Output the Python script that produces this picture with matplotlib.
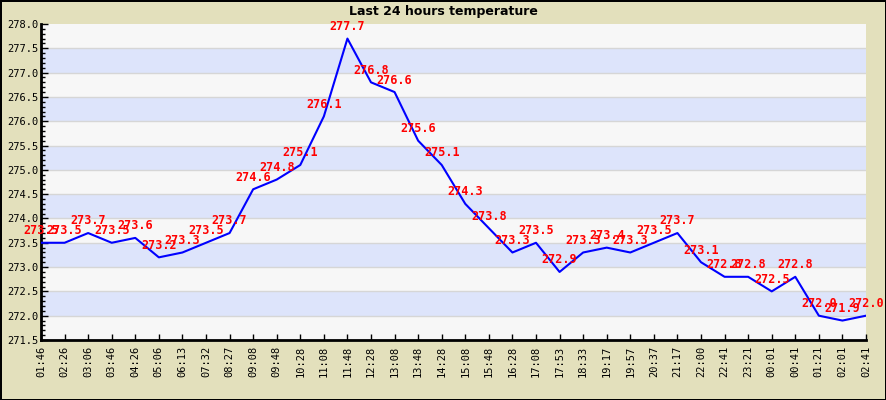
import numpy as np
import matplotlib
matplotlib.use("Agg")
import matplotlib.pyplot as plt
from matplotlib.ticker import MultipleLocator

# data
times = ["01:46", "02:26", "03:06", "03:46", "04:26", "05:06", "06:13", "07:32",
         "08:27", "09:08", "09:48", "10:28", "11:08", "11:48", "12:28", "13:08",
         "13:48", "14:28", "15:08", "15:48", "16:28", "17:08", "17:53", "18:33",
         "19:17", "19:57", "20:37", "21:17", "22:00", "22:41", "23:21", "00:01",
         "00:41", "01:21", "02:01", "02:41"]
temps = [273.5, 273.5, 273.7, 273.5, 273.6, 273.2, 273.3, 273.5, 273.7, 274.6,
         274.8, 275.1, 276.1, 277.7, 276.8, 276.6, 275.6, 275.1, 274.3, 273.8,
         273.3, 273.5, 272.9, 273.3, 273.4, 273.3, 273.5, 273.7, 273.1, 272.8,
         272.8, 272.5, 272.8, 272.0, 271.9, 272.0]
y_min, y_max = 271.5, 278.0

bg = '#E3E0BC'
mono = 'DejaVu Sans Mono'

fig = plt.figure(figsize=(8.86, 4.0), dpi=100, facecolor=bg,
                 edgecolor='black', linewidth=2)
ax = fig.add_axes([41 / 886, 60 / 400, 825 / 886, 316 / 400])
ax.set_facecolor('#F7F7F7')

# alternating bands
levels = np.arange(y_min, y_max, 0.5)
for i, lv in enumerate(levels):
    if i % 2 == 1:
        ax.axhspan(lv, lv + 0.5, color='#DDE4FB', zorder=0, lw=0)
    ax.axhline(lv, color='#D6D6D6', lw=1, zorder=1)

x = np.arange(len(times))
ax.plot(x, temps, color='#0000FF', lw=1.5, zorder=3)

for xi, t in zip(x, temps):
    ax.annotate(f"{t:.1f}", (xi, t), xytext=(0, 4), textcoords='offset points',
                ha='center', va='bottom', color='#FF0000', fontsize=8.5,
                fontweight='bold', family=mono, zorder=4)

ax.set_xlim(0, len(times) - 1)
ax.set_ylim(y_min, y_max)
ax.set_xticks(x)
ax.set_xticklabels(times, rotation=90, family=mono, fontsize=7.5)
ax.yaxis.set_major_locator(MultipleLocator(0.5))
ax.yaxis.set_minor_locator(MultipleLocator(0.1))
ax.set_yticks(levels.tolist() + [y_max])
ax.set_yticklabels([f"{v:.1f}" for v in list(levels) + [y_max]], family=mono, fontsize=7.5)

ax.tick_params(axis='y', which='major', direction='in', length=5, width=1, pad=2)
ax.tick_params(axis='y', which='minor', direction='in', length=3, width=1)
ax.tick_params(axis='x', direction='in', length=4, width=1, pad=4)

for side in ['top', 'right']:
    ax.spines[side].set_visible(False)
for side in ['left', 'bottom']:
    ax.spines[side].set_linewidth(2)

fig.text(0.5, 1 - 11 / 400, "Last 24 hours temperature", ha='center', va='center',
         fontsize=9, fontweight='bold')

fig.savefig("out.png", dpi=100, facecolor=bg, edgecolor='black')
